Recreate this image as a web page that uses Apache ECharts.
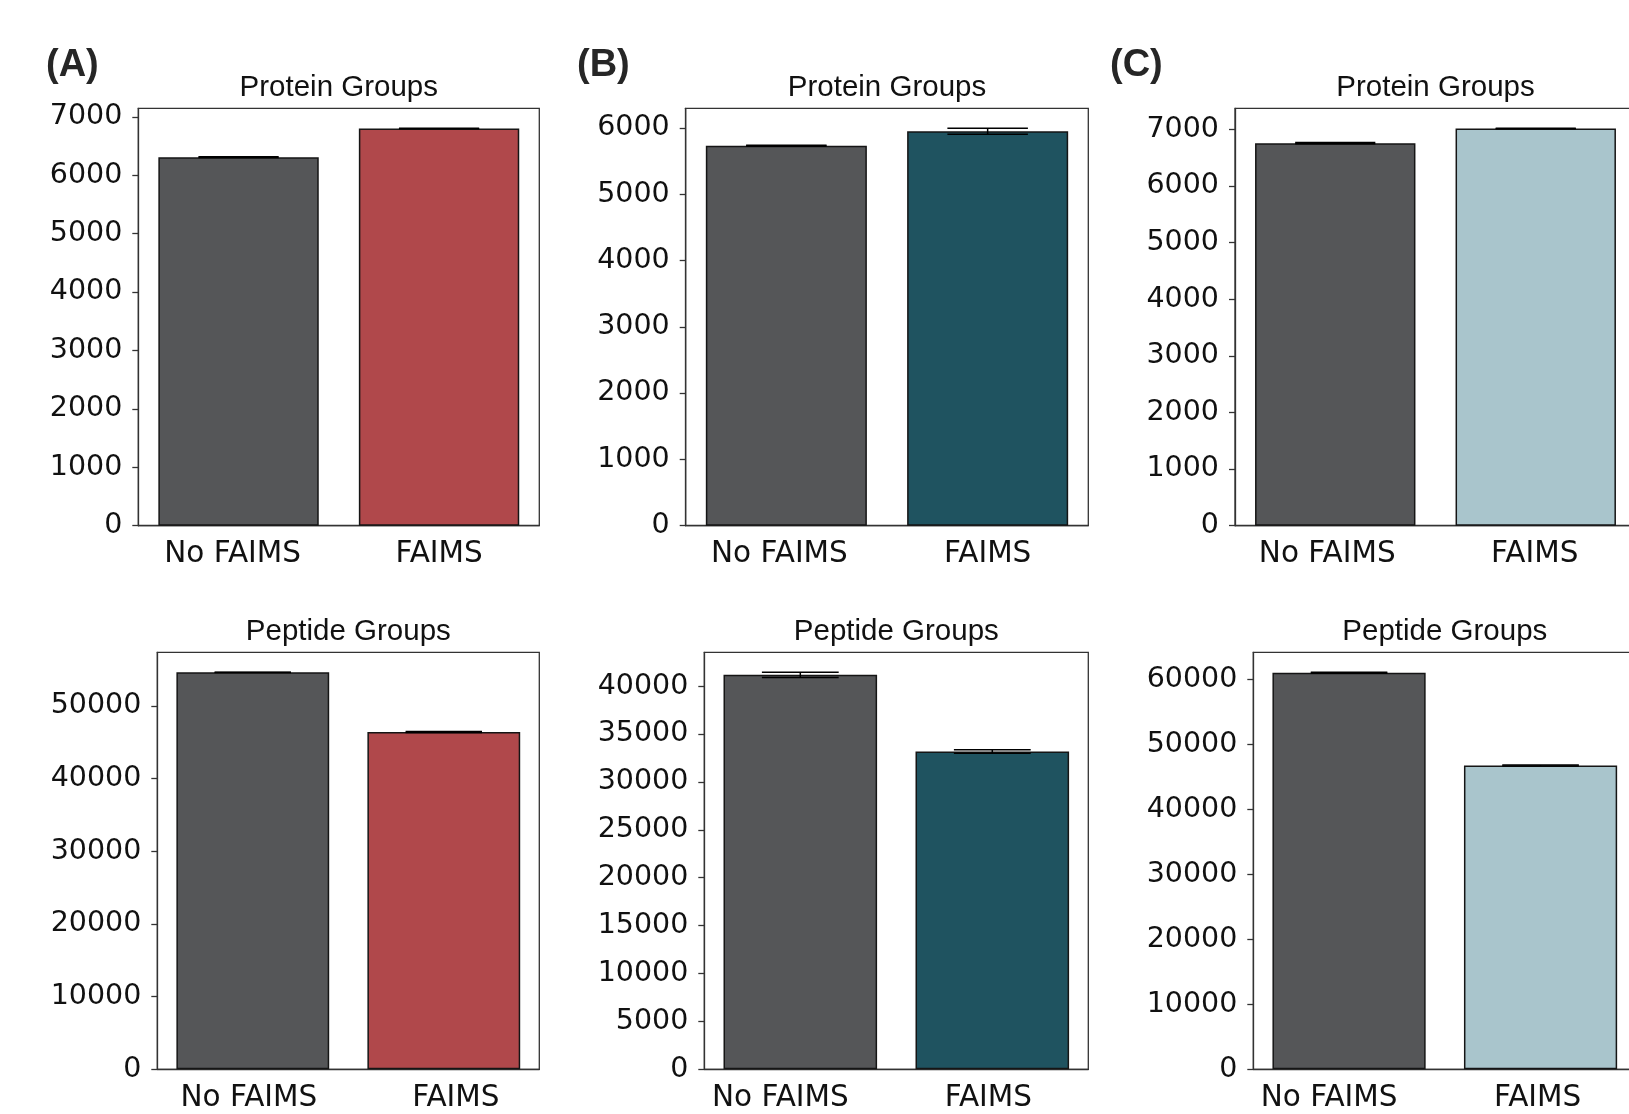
<!DOCTYPE html>
<html>
<head>
<meta charset="utf-8">
<script src="https://cdn.jsdelivr.net/npm/echarts@6/dist/echarts.min.js"></script>
<style>
html, body { margin: 0; padding: 0; background: #fff; overflow: hidden; }
#main { width: 1660px; height: 1114px; }
</style>
</head>
<body>
<div id="main"></div>
<script>
var categories = ['No FAIMS', 'FAIMS'];

// means and error values
var proteinA = [6310, 6801];
var proteinAErr = [5, 5];
var proteinB = [5730, 5950];
var proteinBErr = [6, 45];
var proteinC = [6755, 7015];
var proteinCErr = [10, 5];
var peptideA = [54640, 46420];
var peptideAErr = [20, 60];
var peptideB = [41180, 33170];
var peptideBErr = [280, 180];
var peptideC = [61020, 46740];
var peptideCErr = [80, 80];

// y tick labels
var ticksProteinA = [0, 1000, 2000, 3000, 4000, 5000, 6000, 7000];
var ticksProteinB = [0, 1000, 2000, 3000, 4000, 5000, 6000];
var ticksProteinC = [0, 1000, 2000, 3000, 4000, 5000, 6000, 7000];
var ticksPeptideA = [0, 10000, 20000, 30000, 40000, 50000];
var ticksPeptideB = [0, 5000, 10000, 15000, 20000, 25000, 30000, 35000, 40000];
var ticksPeptideC = [0, 10000, 20000, 30000, 40000, 50000, 60000];

var gray = '#555658';
var colorA = '#B0484B';
var colorB = '#1F5360';
var colorC = '#A9C5CC';

// shift: horizontal nudge of each category label in px (the source labels sit off-centre)
var panels = [
	{title: 'Protein Groups', values: proteinA, err: proteinAErr, ticks: ticksProteinA, color: colorA, left: 138.3, top: 108.3, width: 401, height: 417.4, shift: [-6, 0]},
	{title: 'Protein Groups', values: proteinB, err: proteinBErr, ticks: ticksProteinB, color: colorB, left: 685.7, top: 108.3, width: 402.6, height: 417.4, shift: [-7, 0]},
	{title: 'Protein Groups', values: proteinC, err: proteinCErr, ticks: ticksProteinC, color: colorC, left: 1235, top: 108.3, width: 401, height: 417.4, shift: [-8, -1]},
	{title: 'Peptide Groups', values: peptideA, err: peptideAErr, ticks: ticksPeptideA, color: colorA, left: 157.3, top: 652.3, width: 382, height: 417, shift: [-4, 12]},
	{title: 'Peptide Groups', values: peptideB, err: peptideBErr, ticks: ticksPeptideB, color: colorB, left: 704.3, top: 652.3, width: 384, height: 417, shift: [-20, -4]},
	{title: 'Peptide Groups', values: peptideC, err: peptideCErr, ticks: ticksPeptideC, color: colorC, left: 1253.3, top: 652.3, width: 383, height: 417, shift: [-20, -3]}
];

var tickFont = 'DejaVu Sans';
var titleFont = 'Liberation Sans';
var frameColor = '#333';

function errorItem(params, api) {
	var x = api.value(0);
	var lo = api.coord([x, api.value(1)]);
	var hi = api.coord([x, api.value(2)]);
	var half = api.size([1, 0])[0] * 0.8 * 0.25;
	var style = {stroke: '#000', lineWidth: 1.5};
	return {
		type: 'group',
		children: [
			{type: 'line', shape: {x1: lo[0], y1: lo[1], x2: hi[0], y2: hi[1]}, style: style},
			{type: 'line', shape: {x1: hi[0] - half, y1: hi[1], x2: hi[0] + half, y2: hi[1]}, style: style},
			{type: 'line', shape: {x1: lo[0] - half, y1: lo[1], x2: lo[0] + half, y2: lo[1]}, style: style}
		]
	};
}

function labelRich(shift) {
	var rich = {};
	shift.forEach(function (s, k) {
		rich['c' + k] = {
			fontFamily: tickFont, fontSize: 29.5, color: '#111',
			padding: s < 0 ? [0, -2 * s, 0, 0] : [0, 0, 0, 2 * s]
		};
	});
	return rich;
}

var option = {
	animation: false,
	backgroundColor: '#fff',
	title: [],
	grid: [],
	xAxis: [],
	yAxis: [],
	series: [],
	graphic: [
		{type: 'text', left: 46, top: 47, style: {text: '(A)', font: 'bold 38px "Liberation Sans"', fill: '#262626'}},
		{type: 'text', left: 577, top: 47, style: {text: '(B)', font: 'bold 38px "Liberation Sans"', fill: '#262626'}},
		{type: 'text', left: 1110, top: 47, style: {text: '(C)', font: 'bold 38px "Liberation Sans"', fill: '#262626'}}
	]
};

panels.forEach(function (p, i) {
	var top = 0;
	for (var k = 0; k < p.values.length; k++) {
		top = Math.max(top, p.values[k] + p.err[k]);
	}
	var yMax = top * 1.05;

	option.title.push({
		text: p.title,
		left: p.left + p.width / 2,
		top: p.top - 35,
		textAlign: 'center',
		padding: 0,
		textStyle: {fontFamily: titleFont, fontSize: 29.5, fontWeight: 'normal', color: '#111'}
	});
	option.grid.push({
		left: p.left, top: p.top, width: p.width, height: p.height,
		show: true, borderColor: frameColor, borderWidth: 1.3, backgroundColor: 'transparent'
	});
	option.xAxis.push({
		type: 'category',
		gridIndex: i,
		data: categories,
		axisLine: {lineStyle: {color: frameColor, width: 1.3}},
		axisTick: {alignWithLabel: true, interval: 0, length: 6, lineStyle: {color: frameColor, width: 1.3}},
		axisLabel: {
			interval: 0, hideOverlap: false,
			fontFamily: tickFont, fontSize: 29.5, color: '#111', margin: 14,
			formatter: function (v, idx) { return '{c' + idx + '|' + v + '}'; },
			rich: labelRich(p.shift)
		}
	});
	option.yAxis.push({
		type: 'value',
		gridIndex: i,
		min: 0,
		max: yMax,
		splitLine: {show: false},
		axisLine: {show: true, lineStyle: {color: frameColor, width: 1.3}},
		axisTick: {show: true, length: 6, customValues: p.ticks, lineStyle: {color: frameColor, width: 1.3}},
		axisLabel: {
			customValues: p.ticks, fontFamily: tickFont, fontSize: 28.5, color: '#111', margin: 16,
			formatter: function (v) { return String(v); }
		}
	});
	option.series.push({
		type: 'bar',
		xAxisIndex: i,
		yAxisIndex: i,
		barWidth: '80%',
		data: p.values.map(function (v, k) {
			return {value: v, itemStyle: {color: k === 0 ? gray : p.color}};
		}),
		itemStyle: {borderColor: '#151515', borderWidth: 1.5}
	});
	option.series.push({
		type: 'custom',
		xAxisIndex: i,
		yAxisIndex: i,
		z: 5,
		renderItem: errorItem,
		encode: {x: 0, y: [1, 2]},
		data: p.values.map(function (v, k) {
			return [k, v - p.err[k], v + p.err[k]];
		})
	});
});

var myChart = echarts.init(document.getElementById('main'));
myChart.setOption(option);
</script>
</body>
</html>
